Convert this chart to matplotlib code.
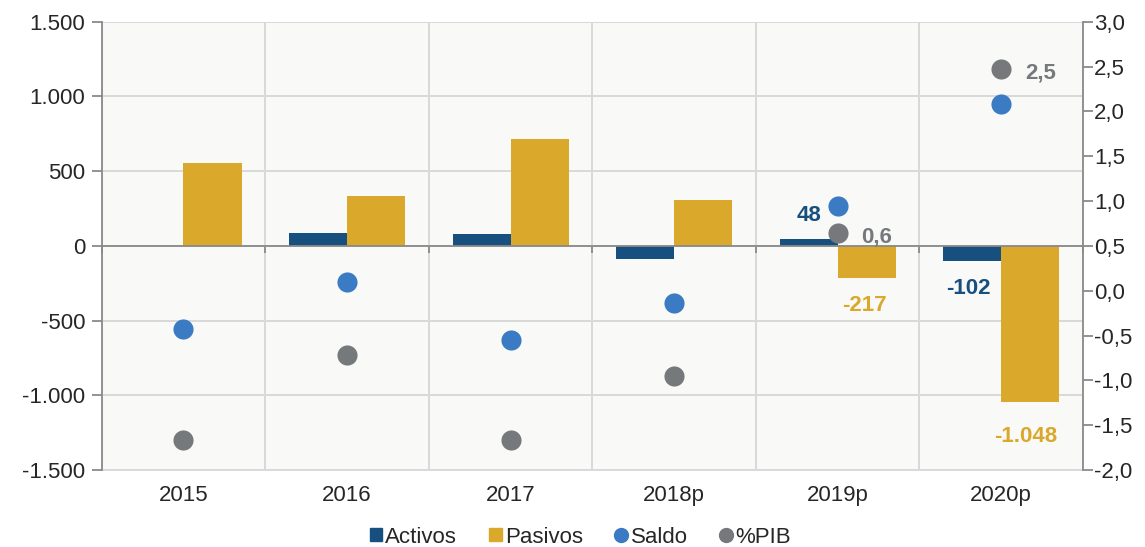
import matplotlib
matplotlib.use("Agg")
import matplotlib.pyplot as plt
import numpy as np
from matplotlib.ticker import FuncFormatter, MultipleLocator
from matplotlib.lines import Line2D
from matplotlib.patches import Patch

plt.rcParams['font.family'] = ['Liberation Sans', 'DejaVu Sans']

categories = ["2015", "2016", "2017", "2018p", "2019p", "2020p"]
activos = [0, 89, 79, -86, 48, -102]
pasivos = [554, 332, 715, 304, -217, -1048]
saldo = [-556, -243, -631, -385, 269, 951]
pib = [-1.67, -0.72, -1.67, -0.95, 0.64, 2.47]

c_act = "#17507f"
c_pas = "#daa82b"
c_sal = "#3a7bc4"
c_pib = "#76797b"
grid_c = "#d9d9d9"
axis_c = "#8a8a8a"
txt_c = "#262626"

fig = plt.figure(figsize=(11.45, 5.47), dpi=100)
ax = fig.add_axes([0.0888, 0.1408, 0.9459 - 0.0888, 0.9603 - 0.1408])
ax.set_facecolor("#f9f9f7")

x = np.arange(len(categories))
w = 0.355
ax.bar(x - w / 2, activos, width=w, color=c_act, zorder=3)
ax.bar(x + w / 2, pasivos, width=w, color=c_pas, zorder=3)
ax.scatter(x, saldo, s=210, color=c_sal, zorder=5, linewidths=0)

ax.set_xlim(-0.5, len(categories) - 0.5)
ax.set_ylim(-1500, 1500)
ax.yaxis.set_major_locator(MultipleLocator(500))
ax.yaxis.set_major_formatter(FuncFormatter(lambda v, p: f"{int(v):,}".replace(",", ".")))

tick_fs = 16
# category boundaries as x ticks on zero line
bounds = np.arange(-0.5, len(categories) + 0.5, 1.0)
ax.set_xticks(bounds)
ax.set_xticklabels([])
ax.spines['bottom'].set_position(('data', 0))
ax.spines['bottom'].set_color(axis_c)
ax.spines['bottom'].set_linewidth(1.3)
ax.spines['bottom'].set_zorder(4)
ax.tick_params(axis='x', length=5, width=1.3, color=axis_c)
ax.spines['top'].set_visible(False)
ax.spines['right'].set_visible(False)
ax.spines['left'].set_color(axis_c)
ax.spines['left'].set_linewidth(1.3)
ax.tick_params(axis='y', length=7, width=1.3, color=axis_c, labelsize=tick_fs,
               labelcolor=txt_c, pad=5)
ax.grid(True, color=grid_c, linewidth=1.4, zorder=0)
ax.set_axisbelow(True)

sec = ax.secondary_xaxis('bottom')
sec.set_xticks(x)
sec.set_xticklabels(categories)
sec.tick_params(length=0, labelsize=tick_fs, labelcolor=txt_c, pad=11)
sec.spines['bottom'].set_color(grid_c)
sec.spines['bottom'].set_linewidth(1.4)

ax2 = ax.twinx()
ax2.set_ylim(-2.0, 3.0)
ax2.yaxis.set_major_locator(MultipleLocator(0.5))
ax2.yaxis.set_major_formatter(FuncFormatter(lambda v, p: f"{v:.1f}".replace(".", ",")))
ax2.scatter(x, pib, s=210, color=c_pib, zorder=5, linewidths=0)
for s in ['top', 'left', 'bottom']:
    ax2.spines[s].set_visible(False)
ax2.spines['right'].set_color(axis_c)
ax2.spines['right'].set_linewidth(1.3)
ax2.tick_params(axis='y', length=7, width=1.3, color=axis_c, labelsize=tick_fs,
                labelcolor=txt_c, pad=1)

# top light line
ax.axhline(1500, color=grid_c, linewidth=1.4, zorder=0)

# annotations
fs = 16
ax.annotate("48", (x[4] - w / 2, activos[4]), xytext=(0, 9), textcoords='offset points',
            ha='center', va='bottom', color=c_act, fontsize=fs, fontweight='bold')
ax.annotate("-217", (x[4] + w / 2, pasivos[4]), xytext=(-2, -12), textcoords='offset points',
            ha='center', va='top', color=c_pas, fontsize=fs, fontweight='bold')
ax.annotate("-102", (x[5] - w / 2, activos[5]), xytext=(-3, -12), textcoords='offset points',
            ha='center', va='top', color=c_act, fontsize=fs, fontweight='bold')
ax.annotate("-1.048", (x[5] + w / 2, pasivos[5]), xytext=(-3, -17), textcoords='offset points',
            ha='center', va='top', color=c_pas, fontsize=fs, fontweight='bold')
ax2.annotate("0,6", (x[4], pib[4]), xytext=(17, -3), textcoords='offset points',
             ha='left', va='center', color=c_pib, fontsize=fs, fontweight='bold')
ax2.annotate("2,5", (x[5], pib[5]), xytext=(17, -3), textcoords='offset points',
             ha='left', va='center', color=c_pib, fontsize=fs, fontweight='bold')

handles = [
    Patch(color=c_act, label="Activos"),
    Patch(color=c_pas, label="Pasivos"),
    Line2D([], [], marker='o', linestyle='none', markersize=10, color=c_sal, label="Saldo"),
    Line2D([], [], marker='o', linestyle='none', markersize=10, color=c_pib, label="%PIB"),
]
fig.legend(handles=handles, loc='center', bbox_to_anchor=(0.507, 0.018), ncol=4,
           frameon=False, fontsize=tick_fs, handlelength=0.55, handleheight=0.55,
           handletextpad=0.15, columnspacing=1.45, labelcolor=txt_c)

fig.savefig("out.png", dpi=100)
